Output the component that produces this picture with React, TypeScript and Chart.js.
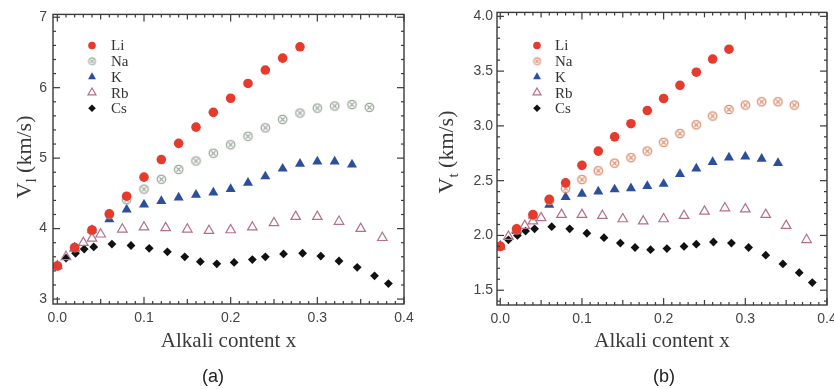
import React, { useEffect, useRef } from 'react';
import { Chart, registerables } from 'chart.js';
import { drawPoint } from 'chart.js/helpers';

Chart.register(...registerables);

// ---------- data ----------
const liX = [0, 0.02, 0.04, 0.06, 0.08, 0.1, 0.12, 0.14, 0.16, 0.18, 0.2, 0.22, 0.24, 0.26, 0.28];
const naX = [0, 0.02, 0.04, 0.06, 0.08, 0.1, 0.12, 0.14, 0.16, 0.18, 0.2, 0.22, 0.24, 0.26, 0.28, 0.3, 0.32, 0.34, 0.36];
const kX = [0, 0.02, 0.04, 0.06, 0.08, 0.1, 0.12, 0.14, 0.16, 0.18, 0.2, 0.22, 0.24, 0.26, 0.28, 0.3, 0.32, 0.34];
const rbX = [0, 0.01, 0.02, 0.03, 0.04, 0.05, 0.075, 0.1, 0.125, 0.15, 0.175, 0.2, 0.225, 0.25, 0.275, 0.3, 0.325, 0.35, 0.375];
const csX = [0, 0.01, 0.021, 0.031, 0.042, 0.063, 0.085, 0.106, 0.127, 0.147, 0.165, 0.184, 0.204, 0.225, 0.24, 0.261, 0.283, 0.304, 0.325, 0.346, 0.366, 0.382];

// longitudinal velocity V_l (km/s), panel (a)
const liVl = [3.47, 3.73, 3.98, 4.21, 4.46, 4.73, 4.98, 5.21, 5.44, 5.65, 5.85, 6.06, 6.25, 6.42, 6.58];
const naVl = [3.47, 3.73, 3.97, 4.2, 4.41, 4.56, 4.7, 4.84, 4.96, 5.07, 5.19, 5.31, 5.43, 5.55, 5.64, 5.71, 5.74, 5.76, 5.72];
const kVl = [3.47, 3.73, 3.98, 4.13, 4.27, 4.34, 4.39, 4.44, 4.48, 4.51, 4.56, 4.65, 4.74, 4.85, 4.92, 4.95, 4.95, 4.91];
const rbVl = [3.47, 3.6, 3.72, 3.8, 3.86, 3.92, 3.99, 4.02, 4.01, 3.99, 3.97, 3.98, 4.02, 4.08, 4.17, 4.17, 4.1, 4.0, 3.87];
const csVl = [3.47, 3.58, 3.65, 3.71, 3.74, 3.78, 3.76, 3.72, 3.67, 3.6, 3.53, 3.5, 3.52, 3.56, 3.6, 3.64, 3.65, 3.61, 3.54, 3.45, 3.33, 3.22];

// transverse velocity V_t (km/s), panel (b)
const liVt = [1.9, 2.06, 2.19, 2.33, 2.48, 2.64, 2.77, 2.9, 3.02, 3.14, 3.25, 3.37, 3.49, 3.61, 3.7];
const naVt = [1.9, 2.05, 2.18, 2.32, 2.43, 2.51, 2.59, 2.66, 2.71, 2.77, 2.85, 2.93, 3.01, 3.09, 3.15, 3.19, 3.22, 3.22, 3.19];
const kVt = [1.9, 2.04, 2.18, 2.28, 2.35, 2.38, 2.4, 2.42, 2.43, 2.45, 2.47, 2.56, 2.61, 2.67, 2.71, 2.72, 2.7, 2.66];
const rbVt = [1.9, 1.99, 2.05, 2.09, 2.13, 2.16, 2.19, 2.19, 2.18, 2.15, 2.13, 2.15, 2.18, 2.22, 2.25, 2.24, 2.19, 2.09, 1.96];
const csVt = [1.9, 1.96, 2.0, 2.04, 2.06, 2.08, 2.06, 2.02, 1.98, 1.93, 1.89, 1.87, 1.88, 1.9, 1.92, 1.94, 1.93, 1.89, 1.82, 1.74, 1.66, 1.57];

const seriesNames = ['Li', 'Na', 'K', 'Rb', 'Cs'];
const xTickValues = [0, 0.1, 0.2, 0.3, 0.4];
const yTicksA = [3, 4, 5, 6, 7];
const yTicksB = [1.5, 2.0, 2.5, 3.0, 3.5, 4.0];

// ---------- styling helpers ----------
const COL_LI = '#e63a2c';
const COL_K = '#2c4e9e';
const COL_RB = '#b46f8c';
const COL_CS = '#111111';

function crossCircle(color: string, r: number, lw: number): HTMLCanvasElement {
  const size = Math.ceil(2 * (r + lw)) + 2;
  const c = document.createElement('canvas');
  c.width = size;
  c.height = size;
  const g = c.getContext('2d')!;
  const m = size / 2;
  g.strokeStyle = color;
  g.lineWidth = lw;
  g.beginPath();
  g.arc(m, m, r, 0, Math.PI * 2);
  g.stroke();
  const d = r * 0.5;
  g.beginPath();
  g.moveTo(m - d, m - d);
  g.lineTo(m + d, m + d);
  g.moveTo(m + d, m - d);
  g.lineTo(m - d, m + d);
  g.stroke();
  return c;
}

function toXY(xs: number[], ys: number[]) {
  return xs.map((x, i) => ({ x, y: ys[i] }));
}

const SERIF = '"Liberation Serif", "Times New Roman", serif';
const SANS = '"Liberation Sans", Arial, sans-serif';

const decorPlugin = {
  id: 'decor',
  afterDraw(chart: any, _args: any, opts: any) {
    const { ctx, chartArea: ca, scales } = chart;
    const xs = scales.x;
    const ys = scales.y;
    ctx.save();
    ctx.strokeStyle = '#3a3a3a';
    ctx.lineWidth = 1.2;
    const line = (x1: number, y1: number, x2: number, y2: number) => {
      ctx.beginPath();
      ctx.moveTo(x1, y1);
      ctx.lineTo(x2, y2);
      ctx.stroke();
    };
    // x ticks (inward, bottom and top)
    for (let i = 0; i <= 40; i++) {
      const px = xs.getPixelForValue(i * 0.01);
      const len = i % 10 === 0 ? 7 : i % 5 === 0 ? 5 : 3;
      line(px, ca.bottom, px, ca.bottom - len);
      line(px, ca.top, px, ca.top + len);
    }
    // y ticks (inward, left and right)
    const step = opts.yMinor;
    const i0 = Math.ceil(ys.min / step - 1e-6);
    const i1 = Math.floor(ys.max / step + 1e-6);
    for (let i = i0; i <= i1; i++) {
      const py = ys.getPixelForValue(i * step);
      const len = i % opts.yMajorEvery === 0 ? 7 : 3;
      line(ca.left, py, ca.left + len, py);
      line(ca.right, py, ca.right - len, py);
    }
    ctx.lineWidth = 1.4;
    ctx.strokeRect(ca.left, ca.top, ca.right - ca.left, ca.bottom - ca.top);

    // legend
    chart.data.datasets.forEach((ds: any, i: number) => {
      const y = opts.legY + i * opts.legDY;
      ctx.fillStyle = ds.backgroundColor;
      ctx.strokeStyle = ds.borderColor;
      ctx.lineWidth = ds.borderWidth || 0;
      drawPoint(ctx, {
        pointStyle: opts.legStyles[i] || ds.pointStyle,
        rotation: 0,
        radius: opts.legRadii[i],
        borderWidth: ds.borderWidth || 0,
      }, opts.legMarkX, y);
      ctx.fillStyle = '#333';
      ctx.font = `15px ${SERIF}`;
      ctx.textAlign = 'left';
      ctx.textBaseline = 'middle';
      ctx.fillText(ds.label, opts.legTextX, y + 1);
    });

    // x-axis title
    ctx.fillStyle = '#3a3a3a';
    ctx.font = `21px ${SERIF}`;
    ctx.textAlign = 'center';
    ctx.textBaseline = 'alphabetic';
    ctx.fillText('Alkali content x', (ca.left + ca.right) / 2, 347);

    // y-axis title with subscript
    ctx.save();
    ctx.translate(opts.yTitleX, opts.yTitleY);
    ctx.rotate(-Math.PI / 2);
    const f1 = `22px ${SERIF}`;
    const f2 = `15px ${SERIF}`;
    ctx.font = f1;
    const wV = ctx.measureText('V').width;
    const wRest = ctx.measureText(' (km/s)').width;
    ctx.font = f2;
    const wSub = ctx.measureText(opts.sub).width;
    let tx = -(wV + wSub + wRest) / 2;
    ctx.textAlign = 'left';
    ctx.font = f1;
    ctx.fillText('V', tx, 0);
    tx += wV;
    ctx.font = f2;
    ctx.fillText(opts.sub, tx, 5);
    tx += wSub;
    ctx.font = f1;
    ctx.fillText(' (km/s)', tx, 0);
    ctx.restore();

    // panel label
    ctx.fillStyle = '#222';
    ctx.font = `18px ${SANS}`;
    ctx.textAlign = 'center';
    ctx.fillText(opts.panel, opts.panelX, 382);
    ctx.restore();
  },
};

type PanelProps = {
  left: number;
  width: number;
  xMin: number;
  yMin: number;
  yMax: number;
  yTicks: number[];
  yDecimals: number;
  yMinor: number;
  yMajorEvery: number;
  yAxisW: number;
  padRight: number;
  xAxisH: number;
  yPad: number;
  values: number[][];
  naColor: string;
  sub: string;
  panel: string;
  panelX: number;
  yTitleX: number;
  yTitleY: number;
  legMarkX: number;
  legTextX: number;
};

function Panel(p: PanelProps) {
  const ref = useRef<HTMLCanvasElement>(null);
  useEffect(() => {
    const naImg = crossCircle(p.naColor, 4.2, 1.3);
    const naLeg = crossCircle(p.naColor, 3.4, 1.1);
    const xsList = [liX, naX, kX, rbX, csX];
    const styles: any[] = [
      { pointStyle: 'circle', pointRadius: 4.8, backgroundColor: COL_LI, borderColor: COL_LI, borderWidth: 0 },
      { pointStyle: naImg, pointRadius: 5, backgroundColor: p.naColor, borderColor: p.naColor, borderWidth: 0 },
      { pointStyle: 'triangle', pointRadius: 5.8, backgroundColor: COL_K, borderColor: COL_K, borderWidth: 0 },
      { pointStyle: 'triangle', pointRadius: 5.5, backgroundColor: 'rgba(0,0,0,0)', borderColor: COL_RB, borderWidth: 1.2 },
      { pointStyle: 'rectRot', pointRadius: 4.4, backgroundColor: COL_CS, borderColor: COL_CS, borderWidth: 0 },
    ];
    const datasets = seriesNames.map((name, i) => ({
      label: name,
      data: toXY(xsList[i], p.values[i]),
      showLine: false,
      pointHoverRadius: styles[i].pointRadius,
      ...styles[i],
    }));
    const chart = new Chart(ref.current!, {
      type: 'scatter',
      data: { datasets },
      plugins: [decorPlugin],
      options: {
        animation: false,
        responsive: false,
        devicePixelRatio: 1,
        events: [],
        layout: { padding: { left: 0, right: p.padRight, top: 10, bottom: 0 }, autoPadding: false },
        plugins: {
          legend: { display: false },
          tooltip: { enabled: false },
          decor: {
            yMinor: p.yMinor,
            yMajorEvery: p.yMajorEvery,
            legY: 45.5,
            legDY: 15.7,
            legMarkX: p.legMarkX,
            legTextX: p.legTextX,
            legRadii: [3.8, 4, 4.6, 4.6, 3.8],
            legStyles: [null, naLeg, null, null, null],
            sub: p.sub,
            panel: p.panel,
            panelX: p.panelX,
            yTitleX: p.yTitleX,
            yTitleY: p.yTitleY,
          },
        } as any,
        scales: {
          x: {
            type: 'linear',
            min: p.xMin,
            max: 0.4,
            grid: { display: false, drawTicks: false },
            border: { display: false },
            afterBuildTicks: (s: any) => {
              s.ticks = xTickValues.map((v) => ({ value: v }));
            },
            afterFit: (s: any) => {
              s.height = p.xAxisH;
            },
            ticks: {
              padding: 6,
              color: '#444',
              autoSkip: false,
              maxRotation: 0,
              font: { family: SANS, size: 14 },
              callback: (v: any) => Number(v).toFixed(1),
            },
          },
          y: {
            type: 'linear',
            min: p.yMin,
            max: p.yMax,
            grid: { display: false, drawTicks: false },
            border: { display: false },
            afterBuildTicks: (s: any) => {
              s.ticks = p.yTicks.map((v) => ({ value: v }));
            },
            afterFit: (s: any) => {
              s.width = p.yAxisW;
            },
            ticks: {
              padding: p.yPad,
              color: '#444',
              autoSkip: false,
              font: { family: SANS, size: 14 },
              callback: (v: any) => Number(v).toFixed(p.yDecimals),
            },
          },
        },
      },
    });
    return () => chart.destroy();
  }, []);
  return (
    <canvas
      ref={ref}
      width={p.width}
      height={389}
      style={{ position: 'absolute', left: p.left, top: 0, width: p.width, height: 389, display: 'block' }}
    />
  );
}

export default function App() {
  return (
    <div style={{ position: 'absolute', left: 0, top: 0, width: 834, height: 389, background: '#fff', overflow: 'hidden' }}>
      <Panel
        left={0}
        width={420}
        xMin={-0.005}
        yMin={2.93}
        yMax={7.04}
        yTicks={yTicksA}
        yDecimals={0}
        yMinor={0.2}
        yMajorEvery={5}
        yAxisW={53}
        padRight={16}
        xAxisH={85}
        yPad={6}
        values={[liVl, naVl, kVl, rbVl, csVl]}
        naColor="#9aa59a"
        sub="l"
        panel="(a)"
        panelX={213}
        yTitleX={31}
        yTitleY={157}
        legMarkX={92}
        legTextX={111}
      />
      <Panel
        left={420}
        width={424}
        xMin={-0.004}
        yMin={1.365}
        yMax={4.036}
        yTicks={yTicksB}
        yDecimals={1}
        yMinor={0.1}
        yMajorEvery={5}
        yAxisW={77}
        padRight={17}
        xAxisH={84}
        yPad={4}
        values={[liVt, naVt, kVt, rbVt, csVt]}
        naColor="#d98c6a"
        sub="t"
        panel="(b)"
        panelX={244}
        yTitleX={33}
        yTitleY={152}
        legMarkX={117}
        legTextX={135}
      />
    </div>
  );
}
